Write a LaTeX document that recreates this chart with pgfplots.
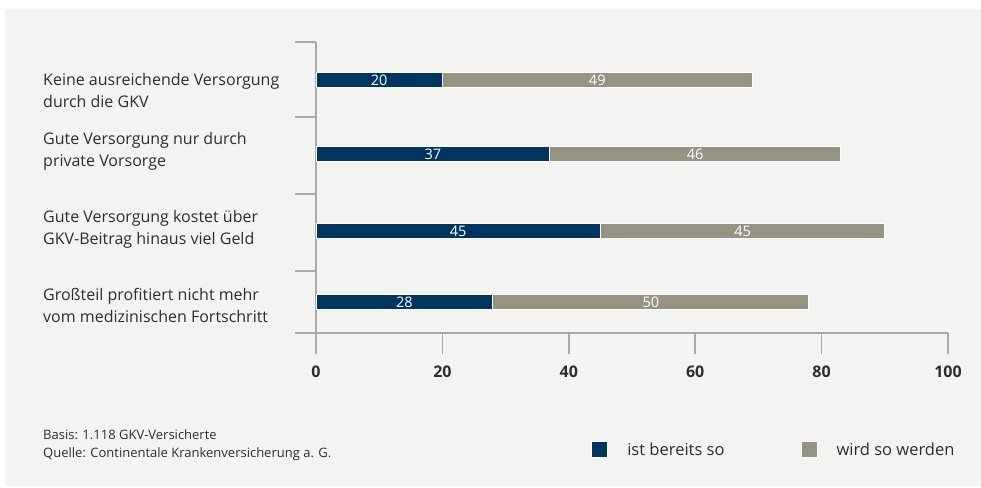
\documentclass[border=0pt]{standalone}
\usepackage{pgfplots}
\pgfplotsset{compat=1.18}
\usepackage{fontspec}
\setmainfont{Open Sans}
\definecolor{bg}{HTML}{F3F3F2}
\definecolor{cblue}{HTML}{00355F}
\definecolor{cgray}{HTML}{979382}
\definecolor{axgray}{HTML}{A9A9AB}
\definecolor{txt}{HTML}{2E2E2E}
\tikzset{vl/.style={font=\fontsize{14.5}{14.5}\selectfont, text=white, inner sep=0pt}}
\begin{document}
\begin{tikzpicture}[x=1pt,y=1pt]
\useasboundingbox (0,0) rectangle (981,-487);
\fill[bg] (5,-9) rectangle (981,-486);
\begin{axis}[
  at={(316pt,-333pt)}, anchor=south west,
  scale only axis, width=632pt, height=291pt,
  xmin=0, xmax=100, ymin=-333, ymax=-42,
  xbar stacked, bar width=15,
  axis x line=bottom, axis y line=left,
  axis line style={-, axgray, line width=1.6pt},
  tick style={axgray, line width=1.6pt},
  tick align=outside,
  major tick length=21pt,
  xtick={0,20,40,60,80,100},
  ytick={-42,-117,-194,-271,-333},
  yticklabels={},
  /pgf/number format/assume math mode=true,
  xticklabel style={font=\fontsize{16}{16}\selectfont\bfseries, text=txt, yshift=-8pt},
  clip=false,
  legend style={at={(axis description cs:0.4353,-0.4020)}, anchor=west, draw=none, fill=none,
    inner sep=0pt, font=\fontsize{16.5}{16.5}\selectfont, text=txt,
    /tikz/every even column/.append style={column sep=74pt},
    /tikz/every odd column/.append style={column sep=17pt}},
  legend columns=2,
  legend cell align=left,
  legend image code/.code={\fill[#1] (0pt,-8pt) rectangle (16pt,8pt);},
]
\addplot[fill=cblue, draw=white, line width=1pt] coordinates {(20,-80) (37,-154) (45,-231) (28,-302)};
\addplot[fill=cgray, draw=white, line width=1pt] coordinates {(49,-80) (46,-154) (45,-231) (50,-302)};
\legend{ist bereits so, wird so werden}
\coordinate (a1) at (axis cs:10,-80);
\coordinate (b1) at (axis cs:44.5,-80);
\coordinate (a2) at (axis cs:18.5,-154);
\coordinate (b2) at (axis cs:60,-154);
\coordinate (a3) at (axis cs:22.5,-231);
\coordinate (b3) at (axis cs:67.5,-231);
\coordinate (a4) at (axis cs:14,-302);
\coordinate (b4) at (axis cs:53,-302);
\end{axis}
\node[vl] at (a1) {20};
\node[vl] at (b1) {49};
\node[vl] at (a2) {37};
\node[vl] at (b2) {46};
\node[vl] at (a3) {45};
\node[vl] at (b3) {45};
\node[vl] at (a4) {28};
\node[vl] at (b4) {50};
\begin{scope}[every node/.style={anchor=west, align=left, inner sep=0pt, text=txt, font=\fontsize{16}{22}\selectfont}]
\node at (43,-90) {Keine ausreichende Versorgung\\durch die GKV};
\node at (43,-151) {Gute Versorgung nur durch\\private Vorsorge};
\node at (43,-229) {Gute Versorgung kostet über\\GKV-Beitrag hinaus viel Geld};
\node at (43,-305) {Großteil profitiert nicht mehr\\vom medizinischen Fortschritt};
\end{scope}
\node[anchor=west, align=left, inner sep=0pt, text=txt, font=\fontsize{13}{18}\selectfont] at (43,-445) {Basis: 1.118 GKV-Versicherte\\Quelle: Continentale Krankenversicherung a. G.};
\end{tikzpicture}
\end{document}
